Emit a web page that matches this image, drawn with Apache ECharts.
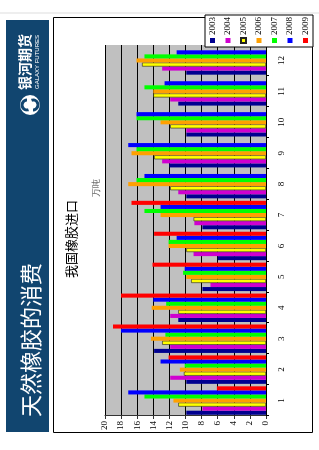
<!DOCTYPE html>
<html>
<head>
<meta charset="utf-8">
<script src="https://cdn.jsdelivr.net/npm/echarts@6/dist/echarts.min.js"></script>
<style>
html,body{margin:0;padding:0;background:#fff;width:319px;height:450px;overflow:hidden;}
#wrap{position:absolute;left:0;top:0;width:450px;height:319px;transform-origin:0 0;transform:translate(0px,450px) rotate(-90deg);}
</style>
</head>
<body>
<div id="wrap"></div>
<script>
var months = ['1','2','3','4','5','6','7','8','9','10','11','12'];
var years = ['2003','2004','2005','2006','2007','2008','2009'];
var v2003 = [9.9, 9.9, 13.9, 10.9, 7.9, 6.0, 7.9, 9.9, 12.0, 9.9, 10.9, 9.9];
var v2004 = [7.9, 11.9, 11.9, 11.9, 6.9, 9.0, 8.9, 10.9, 12.9, 9.9, 11.9, 12.9];
var v2005 = [10.9, 10.2, 12.9, 10.9, 9.3, 9.9, 9.0, 11.9, 13.9, 11.9, 14.0, 15.4];
var v2006 = [11.5, 10.7, 14.3, 14.2, 9.9, 12.1, 13.1, 17.1, 16.7, 13.1, 14.0, 16.1];
var v2007 = [15.1, 10.1, 12.5, 12.4, 10.3, 12.1, 15.1, 16.1, 16.1, 16.1, 15.1, 15.1];
var v2008 = [17.1, 13.1, 18.0, 14.0, 10.1, 11.1, 13.1, 15.1, 17.1, 16.1, 12.6, 11.1];
var v2009 = [6.1, 12.1, 19.0, 18.0, 14.1, 13.9, 16.7, null, null, null, null, null];
var valueTicks = ['0','2','4','6','8','10','12','14','16','18','20'];

var colors = ['#000090', '#d000d0', '#ffff00', '#ffa000', '#00ff00', '#0000ff', '#ff0000'];
var seriesData = [v2003, v2004, v2005, v2006, v2007, v2008, v2009];

var chart = echarts.init(document.getElementById('wrap'), null, {renderer: 'canvas', width: 450, height: 319});
var serif = '"Liberation Serif", "DejaVu Serif", serif';
var cjk = '"Noto Sans CJK SC", "Noto Sans", sans-serif';

var series = years.map(function (y, i) {
  return {
    name: y,
    type: 'bar',
    data: seriesData[i],
    barGap: '0%',
    barCategoryGap: '8%',
    itemStyle: {
      color: colors[i],
      borderColor: i === 2 ? '#222' : colors[i],
      borderWidth: i === 2 ? 0.6 : 0
    },
    animation: false
  };
});

chart.setOption({
  animation: false,
  backgroundColor: '#ffffff',
  color: colors,
  graphic: [
    {type: 'line', shape: {x1: 437, y1: 0, x2: 437, y2: 319}, style: {stroke: '#dddddd', lineWidth: 1}, z: 0},
    {type: 'rect', shape: {x: 18, y: 6, width: 412, height: 43}, style: {fill: '#11456f'}, z: 0},
    {type: 'text', x: 33, y: 31, style: {text: '天然橡胶的消费', fill: '#ffffff', font: '22px ' + cjk, textVerticalAlign: 'middle', textAlign: 'left'}, z: 2},
    {type: 'circle', shape: {cx: 345, cy: 30, r: 10}, style: {fill: '#ffffff'}, z: 2},
    {type: 'arc', shape: {cx: 345, cy: 27, r: 5, startAngle: Math.PI * 0.9, endAngle: Math.PI * 2.0}, style: {stroke: '#11456f', lineWidth: 3, fill: null}, z: 3},
    {type: 'arc', shape: {cx: 345, cy: 33, r: 5, startAngle: -Math.PI * 0.1, endAngle: Math.PI * 1.0}, style: {stroke: '#11456f', lineWidth: 3, fill: null}, z: 3},
    {type: 'text', x: 388, y: 25, style: {text: '银河期货', fill: '#ffffff', font: 'bold 14px ' + cjk, textVerticalAlign: 'middle', textAlign: 'center'}, z: 2},
    {type: 'text', x: 388, y: 37, style: {text: 'GALAXY FUTURES', fill: '#ffffff', font: '6px "Liberation Sans", sans-serif', textVerticalAlign: 'middle', textAlign: 'center'}, z: 2},
    {type: 'rect', shape: {x: 17.5, y: 53.5, width: 415, height: 259}, style: {fill: '#ffffff', stroke: '#000000', lineWidth: 1}, z: -1},
    {type: 'text', x: 262, y: 97, style: {text: '万吨', fill: '#555555', font: '9px ' + serif, textVerticalAlign: 'middle', textAlign: 'center'}, z: 2}
  ],
  title: {
    text: '我国橡胶进口',
    left: 211, top: 65,
    textAlign: 'center',
    padding: 0,
    textStyle: {fontSize: 13, fontWeight: 'normal', color: '#000', fontFamily: cjk}
  },
  legend: {
    data: years,
    orient: 'vertical',
    left: 403, top: 205,
    width: 30, height: 108,
    padding: [3, 2, 3, 3],
    itemWidth: 5, itemHeight: 5,
    itemGap: 6.5,
    icon: 'rect',
    backgroundColor: '#ffffff',
    borderColor: '#000000',
    borderWidth: 1,
    textStyle: {fontSize: 9, fontFamily: serif, color: '#000', padding: [0, 0, 0, -2]}
  },
  grid: {left: 34, right: 45, top: 105, bottom: 53, show: true, backgroundColor: '#c0c0c0', borderWidth: 0},
  xAxis: {
    type: 'category',
    data: months,
    axisLine: {show: true, lineStyle: {color: '#000', width: 1}},
    axisTick: {show: true, length: 3, lineStyle: {color: '#000'}},
    axisLabel: {fontSize: 9, fontFamily: serif, color: '#000', margin: 11}
  },
  yAxis: {
    type: 'value',
    min: 0, max: 20, interval: 2,
    axisLine: {show: true, lineStyle: {color: '#333', width: 1}},
    axisTick: {show: true, length: 3, lineStyle: {color: '#333'}},
    axisLabel: {
      fontSize: 9, fontFamily: serif, color: '#000', margin: 5,
      formatter: function (v) { return valueTicks[Math.round(v / 2)]; }
    },
    splitLine: {show: true, lineStyle: {color: '#000', width: 1}}
  },
  series: series
});
</script>
</body>
</html>
